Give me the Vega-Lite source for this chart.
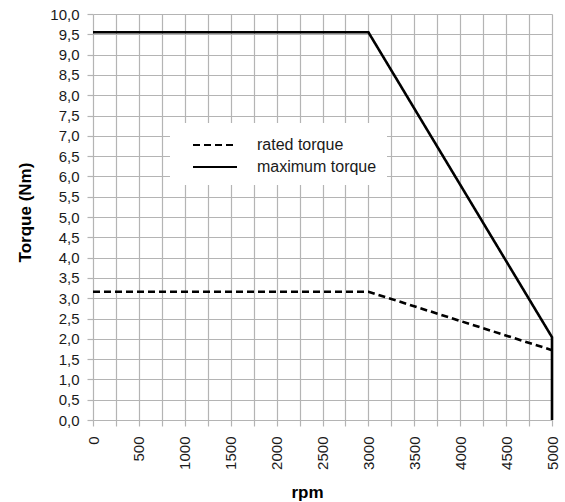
{
  "$schema": "https://vega.github.io/schema/vega-lite/v6.json",
  "width": 459,
  "height": 406,
  "autosize": {"type": "none"},
  "padding": {"left": 93, "top": 14, "right": 13, "bottom": 82},
  "background": "white",
  "config": {
    "font": "Liberation Sans",
    "view": {"stroke": null},
    "axis": {
      "gridColor": "#b4b4b4",
      "gridOpacity": 1,
      "gridWidth": 1.2,
      "tickColor": "#b4b4b4",
      "tickWidth": 1.2,
      "tickSize": 6,
      "domain": false,
      "labelColor": "#1a1a1a",
      "labelFontSize": 15,
      "titleFontSize": 17,
      "titleFontWeight": "bold",
      "titleColor": "#000000"
    }
  },
  "data": {
    "values": [
      {"rpm": 0, "torque": 3.16, "series": "rated torque"},
      {"rpm": 3000, "torque": 3.16, "series": "rated torque"},
      {"rpm": 5000, "torque": 1.72, "series": "rated torque"},
      {"rpm": 0, "torque": 9.55, "series": "maximum torque"},
      {"rpm": 3000, "torque": 9.55, "series": "maximum torque"},
      {"rpm": 5000, "torque": 2.04, "series": "maximum torque"},
      {"rpm": 5000, "torque": 0, "series": "maximum torque"}
    ]
  },
  "mark": {"type": "line", "color": "black", "strokeWidth": 2.6},
  "encoding": {
    "x": {
      "field": "rpm",
      "type": "quantitative",
      "scale": {"domain": [0, 5000], "nice": false, "zero": false},
      "axis": {
        "title": "rpm",
        "values": [0,250,500,750,1000,1250,1500,1750,2000,2250,2500,2750,3000,3250,3500,3750,4000,4250,4500,4750,5000],
        "labelExpr": "datum.value % 500 === 0 ? format(datum.value, 'd') : ''",
        "labelAngle": -90,
        "labelAlign": "right",
        "labelBaseline": "middle",
        "labelPadding": 10,
        "titleX": 214,
        "titleY": 77,
        "titleBaseline": "alphabetic",
        "labelOverlap": false
      }
    },
    "y": {
      "field": "torque",
      "type": "quantitative",
      "scale": {"domain": [0, 10], "nice": false},
      "axis": {
        "title": "Torque (Nm)",
        "values": [0,0.5,1,1.5,2,2.5,3,3.5,4,4.5,5,5.5,6,6.5,7,7.5,8,8.5,9,9.5,10],
        "labelExpr": "replace(format(datum.value, '.1f'), '.', ',')",
        "labelPadding": 8,
        "titleX": -68,
        "titleY": 198,
        "titleBaseline": "middle",
        "labelOverlap": false
      }
    },
    "detail": {"field": "series"},
    "strokeDash": {
      "field": "series",
      "type": "nominal",
      "scale": {"domain": ["rated torque", "maximum torque"], "range": [[7, 4], [1, 0]]},
      "legend": {
        "title": null,
        "orient": "none",
        "legendX": 77,
        "legendY": 109,
        "fillColor": "white",
        "padding": 10,
        "symbolType": "M-2,0L2,0",
        "symbolSize": 484,
        "symbolStrokeWidth": 1.8,
        "symbolStrokeColor": "black",
        "symbolFillColor": "transparent",
        "symbolOffset": 23,
        "rowPadding": 2,
        "labelFontSize": 16,
        "labelColor": "#1a1a1a",
        "labelOffset": 30
      }
    }
  }
}
